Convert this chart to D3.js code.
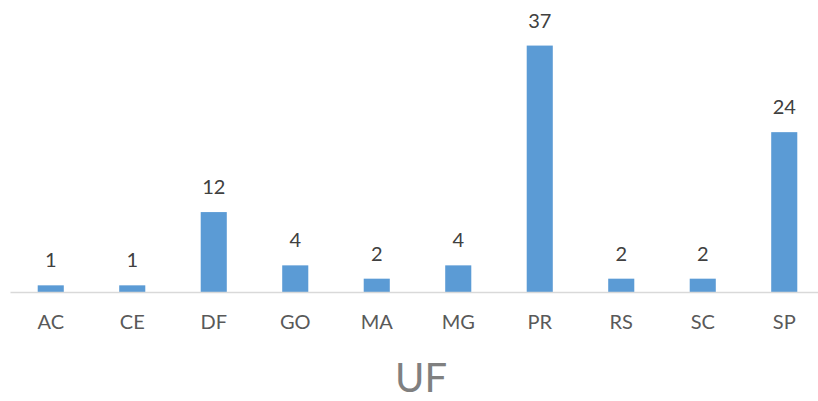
<!DOCTYPE html>
<html>
<head>
<meta charset="utf-8">
<script src="https://cdn.jsdelivr.net/npm/d3@7"></script>
<style>
  body { margin: 0; background: #fff; }
  text { font-family: Lato, "Open Sans", sans-serif; }
</style>
</head>
<body>
<div id="chart"></div>
<script>
// data
var ufs = ["AC", "CE", "DF", "GO", "MA", "MG", "PR", "RS", "SC", "SP"];
var counts = [1, 1, 12, 4, 2, 4, 37, 2, 2, 24];

var width = 818, height = 401;

var svg = d3.select("#chart")
  .append("svg")
    .attr("width", width)
    .attr("height", height);

var x = d3.scaleBand()
  .domain(ufs)
  .range([10, 825])
  .paddingInner(0.68)
  .paddingOuter(0.34);

var y = d3.scaleLinear()
  .domain([0, 40])
  .range([292, 25.6]);

// bars
svg.selectAll(".bar")
  .data(ufs)
  .enter()
  .append("rect")
    .attr("class", "bar")
    .attr("x", function(d) { return x(d); })
    .attr("width", x.bandwidth())
    .attr("y", function(d, i) { return y(counts[i]); })
    .attr("height", function(d, i) { return y(0) - y(counts[i]); })
    .style("fill", "#5B9BD5");

// x axis
var xAxis = svg.append("g")
  .attr("transform", "translate(0," + y(0) + ")")
  .call(d3.axisBottom(x).tickSize(0).tickPadding(23));

xAxis.select(".domain")
  .attr("stroke", "#D9D9D9")
  .attr("stroke-width", 1.5);

xAxis.selectAll("text")
  .style("font-family", "Lato, 'Open Sans', sans-serif")
  .style("font-size", "20px")
  .style("fill", "#595959");

// value labels
svg.selectAll(".val")
  .data(ufs)
  .enter()
  .append("text")
    .attr("class", "val")
    .attr("x", function(d) { return x(d) + x.bandwidth() / 2; })
    .attr("y", function(d, i) { return y(counts[i]) - 18; })
    .attr("text-anchor", "middle")
    .style("font-size", "20px")
    .style("fill", "#404040")
    .text(function(d, i) { return counts[i]; });

// axis title
svg.append("text")
  .attr("x", 421)
  .attr("y", 392)
  .attr("text-anchor", "middle")
  .style("font-size", "40px")
  .style("fill", "#808080")
  .text("UF");
</script>
</body>
</html>
